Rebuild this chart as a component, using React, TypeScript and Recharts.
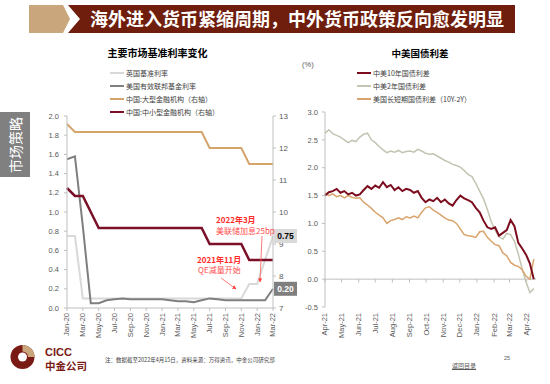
import React from 'react';
import { LineChart, Line, XAxis, YAxis, ReferenceLine, LabelList } from 'recharts';

const FONT = '"Liberation Sans", Arial, "Noto Sans CJK SC", sans-serif';
const CJK = '"Noto Sans CJK SC", "Liberation Sans", sans-serif';

// ---- left chart: 主要市场基准利率变化 (monthly)
const rateMonths = [
  'Jan-20', 'Feb-20', 'Mar-20', 'Apr-20', 'May-20', 'Jun-20', 'Jul-20', 'Aug-20', 'Sep-20',
  'Oct-20', 'Nov-20', 'Dec-20', 'Jan-21', 'Feb-21', 'Mar-21', 'Apr-21', 'May-21', 'Jun-21',
  'Jul-21', 'Aug-21', 'Sep-21', 'Oct-21', 'Nov-21', 'Dec-21', 'Jan-22', 'Feb-22', 'Mar-22',
];
const ukBaseRate = [
  0.75, 0.75, 0.1, 0.1, 0.1, 0.1, 0.1, 0.1, 0.1, 0.1, 0.1, 0.1, 0.1, 0.1,
  0.1, 0.1, 0.1, 0.1, 0.1, 0.1, 0.1, 0.1, 0.1, 0.25, 0.25, 0.5, 0.75,
];
const usFedFunds = [
  1.55, 1.58, 0.85, 0.05, 0.05, 0.08, 0.09, 0.1, 0.09, 0.09, 0.09, 0.09, 0.09, 0.08,
  0.07, 0.07, 0.06, 0.08, 0.1, 0.09, 0.08, 0.08, 0.08, 0.08, 0.08, 0.08, 0.2,
];
const cnLargeRrr = [
  12.75, 12.5, 12.5, 12.5, 12.5, 12.5, 12.5, 12.5, 12.5, 12.5, 12.5, 12.5, 12.5, 12.5,
  12.5, 12.5, 12.5, 12.5, 12.0, 12.0, 12.0, 12.0, 12.0, 11.5, 11.5, 11.5, 11.5,
];
const cnSmallRrr = [
  10.75, 10.5, 10.5, 10.0, 9.5, 9.5, 9.5, 9.5, 9.5, 9.5, 9.5, 9.5, 9.5, 9.5,
  9.5, 9.5, 9.5, 9.5, 9.0, 9.0, 9.0, 9.0, 9.0, 8.5, 8.5, 8.5, 8.5,
];
const leftTicks = [0, 0.2, 0.4, 0.6, 0.8, 1.0, 1.2, 1.4, 1.6, 1.8, 2.0];
const rightTicks = [7, 8, 9, 10, 11, 12, 13];

const rateSeries = [
  { key: 'uk', name: '英国基准利率', color: '#d9d9d9', axis: 'l', width: 2 },
  { key: 'us', name: '美国有效联邦基金利率', color: '#7f7f7f', axis: 'l', width: 2 },
  { key: 'large', name: '中国:大型金融机构（右轴）', color: '#d4a46c', axis: 'r', width: 2 },
  { key: 'small', name: '中国:中小型金融机构（右轴）', color: '#7b1028', axis: 'r', width: 2.5 },
];

const rateData = rateMonths.map((month, i) => ({
  month,
  uk: ukBaseRate[i],
  us: usFedFunds[i],
  large: cnLargeRrr[i],
  small: cnSmallRrr[i],
}));

// ---- right chart: 中美国债利差 (weekly samples from 2021-04-01)
const spreadCn10Us10 = [
  1.5, 1.56, 1.58, 1.62, 1.55, 1.58, 1.52, 1.55, 1.5, 1.52, 1.6, 1.67, 1.62, 1.68,
  1.64, 1.74, 1.65, 1.69, 1.6, 1.65, 1.58, 1.62, 1.6, 1.55, 1.58, 1.46, 1.38, 1.43,
  1.4, 1.46, 1.38, 1.43, 1.36, 1.32, 1.42, 1.5, 1.45, 1.42, 1.38, 1.28, 1.2, 1.05,
  0.93, 0.9, 0.93, 0.78, 0.83, 0.88, 1.06, 0.95, 0.65, 0.55, 0.44, 0.28, 0.0,
];
const spreadCn2Us2 = [
  2.62, 2.68, 2.61, 2.58, 2.55, 2.5, 2.45, 2.49, 2.47, 2.55, 2.6, 2.62, 2.5, 2.45,
  2.38, 2.32, 2.27, 2.3, 2.28, 2.31, 2.27, 2.29, 2.3, 2.28, 2.33, 2.3, 2.26, 2.24,
  2.25, 2.21, 2.17, 2.13, 2.1, 2.06, 2.04, 2.01, 1.95, 1.88, 1.84, 1.72, 1.58, 1.44,
  1.25, 1.03, 0.88, 0.76, 0.72, 0.82, 0.8, 0.68, 0.45, 0.18, -0.05, -0.24, -0.17,
];
const spreadUs10Us2 = [
  1.55, 1.5, 1.53, 1.48, 1.5, 1.46, 1.5, 1.47, 1.45, 1.46, 1.38, 1.33, 1.27, 1.2,
  1.15, 1.1, 1.0, 1.05, 1.07, 1.1, 1.07, 1.12, 1.1, 1.13, 1.1, 1.2, 1.28, 1.3,
  1.24, 1.2, 1.15, 1.1, 1.06, 1.05, 1.0, 0.9, 0.8, 0.78, 0.77, 0.75, 0.85, 0.86,
  0.75, 0.68, 0.62, 0.6, 0.47, 0.42, 0.3, 0.25, 0.23, 0.17, 0.05, 0.0, 0.36,
];
const monthTickDays = [0, 30, 61, 91, 122, 153, 183, 214, 244, 275, 306, 334, 365];
const monthTickLabels = [
  'Apr-21', 'May-21', 'Jun-21', 'Jul-21', 'Aug-21', 'Sep-21', 'Oct-21',
  'Nov-21', 'Dec-21', 'Jan-22', 'Feb-22', 'Mar-22', 'Apr-22',
];
const spreadTicks = [-0.5, 0, 0.5, 1.0, 1.5, 2.0, 2.5, 3.0];

const spreadSeries = [
  { key: 'cn10', name: '中美10年国债利差', color: '#7b0d1e', width: 2 },
  { key: 'cn2', name: '中美2年国债利差', color: '#c4c4b2', width: 1.5 },
  { key: 'term', name: '美国长短期国债利差（10Y-2Y）', color: '#d9a46c', width: 1.5 },
];

const spreadData = spreadCn10Us10.map((v, i) => ({
  day: i * 7,
  cn10: v,
  cn2: spreadCn2Us2[i],
  term: spreadUs10Us2[i],
}));

const AXIS = '#bfbfbf';
const TICK = '#595959';

const RotTick = (props: any) => {
  const { x, y, payload, toLabel } = props;
  const label = toLabel ? toLabel(payload.value) : payload.value;
  return (
    <text
      transform={`translate(${x},${y}) rotate(-90)`}
      x={0}
      dy="0.33em"
      textAnchor="end"
      fontSize={7.5}
      fill={TICK}
      fontFamily={FONT}
    >
      {label}
    </text>
  );
};

const tagFor = (fill: string, color: string) => (props: any) => {
  const { x, y, value, index } = props;
  if (index !== rateMonths.length - 1) return null;
  return (
    <g>
      <rect x={x + 1} y={y - 7} width={23} height={14} fill={fill} />
      <text x={x + 12.5} y={y} dy="0.35em" textAnchor="middle" fontSize={8.5} fontWeight="bold" fill={color} fontFamily={FONT}>
        {Number(value).toFixed(2)}
      </text>
    </g>
  );
};

const LegendBox = ({ items, left, top, gap }: any) => (
  <div style={{ position: 'absolute', left, top }}>
    {items.map((s: any) => (
      <div key={s.key} style={{ display: 'flex', alignItems: 'center', height: gap }}>
        <div style={{ width: 14, height: 2, background: s.color, marginRight: 2 }} />
        <span style={{ fontSize: 7, color: '#404040', fontFamily: CJK, whiteSpace: 'nowrap' }}>{s.name}</span>
      </div>
    ))}
  </div>
);

const RateChart = () => (
  <>
    <div style={{ position: 'absolute', left: 60, top: 45, width: 195, textAlign: 'center', fontSize: 10, fontWeight: 'bold', fontFamily: CJK, color: '#000' }}>
      主要市场基准利率变化
    </div>
    <LegendBox items={rateSeries} left={110} top={66} gap={13.2} />
    <div style={{ position: 'absolute', left: 20, top: 100 }}>
      <LineChart width={290} height={250} data={rateData} margin={{ top: 16, right: 0, left: 0, bottom: 0 }}>
        <XAxis
          dataKey="month"
          interval={1}
          height={42}
          stroke={AXIS}
          tickSize={3}
          tickMargin={2}
          tick={<RotTick />}
        />
        <YAxis
          yAxisId="l"
          domain={[0, 2]}
          ticks={leftTicks}
          width={47}
          stroke={AXIS}
          tickSize={3}
          tickMargin={5}
          tickFormatter={(v: number) => v.toFixed(1)}
          tick={{ fontSize: 7.5, fill: TICK, fontFamily: FONT }}
        />
        <YAxis
          yAxisId="r"
          orientation="right"
          domain={[7, 13]}
          ticks={rightTicks}
          width={37}
          stroke={AXIS}
          tickSize={3}
          tickMargin={3}
          tick={{ fontSize: 8, fill: TICK, fontFamily: FONT }}
        />
        {rateSeries.map((s) => (
          <Line
            key={s.key}
            yAxisId={s.axis}
            dataKey={s.key}
            type="linear"
            stroke={s.color}
            strokeWidth={s.width}
            dot={false}
            isAnimationActive={false}
          >
            {s.key === 'uk' && <LabelList dataKey="uk" content={tagFor('#d9d9d9', '#000')} />}
            {s.key === 'us' && <LabelList dataKey="us" content={tagFor('#7f7f7f', '#fff')} />}
          </Line>
        ))}
      </LineChart>
    </div>
  </>
);

const SpreadChart = () => (
  <>
    <div style={{ position: 'absolute', left: 330, top: 46, width: 180, textAlign: 'center', fontSize: 9.5, fontWeight: 'bold', fontFamily: CJK, color: '#000' }}>
      中美国债利差
    </div>
    <div style={{ position: 'absolute', left: 302, top: 60, fontSize: 7.5, color: TICK, fontFamily: FONT }}>(%)</div>
    <LegendBox items={spreadSeries} left={357} top={66} gap={13} />
    <div style={{ position: 'absolute', left: 290, top: 100 }}>
      <LineChart width={260} height={250} data={spreadData} margin={{ top: 12, right: 14, left: 0, bottom: 0 }}>
        <XAxis
          dataKey="day"
          type="number"
          domain={[0, 382]}
          ticks={monthTickDays}
          interval={0}
          height={43}
          axisLine={false}
          tickLine={false}
          tickSize={4}
          tickMargin={2}
          tick={<RotTick toLabel={(v: number) => monthTickLabels[monthTickDays.indexOf(v)]} />}
        />
        <YAxis
          domain={[-0.5, 3]}
          ticks={spreadTicks}
          width={35}
          stroke={AXIS}
          tickSize={3}
          tickMargin={4}
          tickFormatter={(v: number) => v.toFixed(1)}
          tick={{ fontSize: 7.5, fill: TICK, fontFamily: FONT }}
        />
        <ReferenceLine y={0} stroke={AXIS} strokeWidth={1} />
        {monthTickDays.map((d) => (
          <ReferenceLine key={d} segment={[{ x: d, y: 0 }, { x: d, y: -0.06 }]} stroke={AXIS} />
        ))}
        {[spreadSeries[1], spreadSeries[2], spreadSeries[0]].map((s) => (
          <Line
            key={s.key}
            dataKey={s.key}
            type="linear"
            stroke={s.color}
            strokeWidth={s.width}
            dot={false}
            isAnimationActive={false}
          />
        ))}
      </LineChart>
    </div>
  </>
);

const Annotations = () => (
  <svg width={550} height={384} style={{ position: 'absolute', left: 0, top: 0, pointerEvents: 'none' }}>
    <defs>
      <marker id="ah" viewBox="0 0 10 10" refX="9" refY="5" markerWidth="5" markerHeight="5" orient="auto">
        <path d="M0,0 L10,5 L0,10 z" fill="#ff3b3b" />
      </marker>
    </defs>
    <g fontFamily={CJK} fontSize={8} fill="#ff2a2a">
      <text x={216} y={223} fontWeight="bold">2022年3月</text>
      <text x={216} y={233.5} fill="#ff4d4d">美联储加息25bp</text>
      <text x={197} y={263} fontWeight="bold">2021年11月</text>
      <text x={198} y={273} fill="#ff4d4d">QE减量开始</text>
    </g>
    <line x1={262} y1={236} x2={260} y2={282} stroke="#ff5a5a" strokeWidth={0.8} markerEnd="url(#ah)" />
    <line x1={221} y1={278} x2={236} y2={289} stroke="#ff5a5a" strokeWidth={0.8} markerEnd="url(#ah)" />
  </svg>
);

const Header = () => (
  <svg width={550} height={40} style={{ position: 'absolute', left: 0, top: 0 }}>
    <polygon points="29,5 63,5 70,19 63,33 29,33" fill="#c9a67b" />
    <polygon points="68,5 515,5 515,33 68,33 80,19" fill="#6f1d0c" />
    <text x={90} y={25.5} fontSize={18} fontWeight="bold" fill="#fff" fontFamily={CJK}>
      海外进入货币紧缩周期，中外货币政策反向愈发明显
    </text>
  </svg>
);

const SideTab = () => (
  <div style={{ position: 'absolute', left: 0, top: 112, width: 30, height: 65, background: '#808080' }}>
    <div style={{ position: 'absolute', left: 15, top: 32.5, transform: 'translate(-50%,-50%) rotate(-90deg)', color: '#fff', fontSize: 14, fontFamily: CJK, whiteSpace: 'nowrap' }}>
      市场策略
    </div>
  </div>
);

const Footer = () => (
  <>
    <svg width={100} height={40} style={{ position: 'absolute', left: 0, top: 340 }}>
      <circle cx={22.5} cy={17} r={12} fill="#7a1a14" />
      <path d="M22.5,5 A12,12 0 0,1 34.5,17 L28,17 A5.5,5.5 0 0,0 22.5,11.5 Z" fill="#c9a67b" />
      <circle cx={22.5} cy={17} r={4.5} fill="#fff" />
      <text x={45} y={16} fontSize={11} fontWeight="bold" fill="#7a1a14" fontFamily={FONT}>CICC</text>
      <text x={45} y={29.5} fontSize={10.5} fontWeight="bold" fill="#7a1a14" fontFamily={CJK}>中金公司</text>
    </svg>
    <div style={{ position: 'absolute', left: 105, top: 356, fontSize: 5.5, color: '#404040', fontFamily: CJK, whiteSpace: 'nowrap' }}>
      注：数据截至2022年4月15日，资料来源：万得资讯，中金公司研究部
    </div>
    <div style={{ position: 'absolute', left: 452, top: 361, fontSize: 6, color: '#595959', fontFamily: CJK, textDecoration: 'underline' }}>
      返回目录
    </div>
    <div style={{ position: 'absolute', left: 504, top: 355, fontSize: 5.5, color: '#595959', fontFamily: FONT }}>25</div>
  </>
);

export default function App() {
  return (
    <div style={{ position: 'absolute', left: 0, top: 0, width: 550, height: 384, background: '#fff', overflow: 'hidden' }}>
      <Header />
      <SideTab />
      <RateChart />
      <SpreadChart />
      <Annotations />
      <Footer />
    </div>
  );
}
